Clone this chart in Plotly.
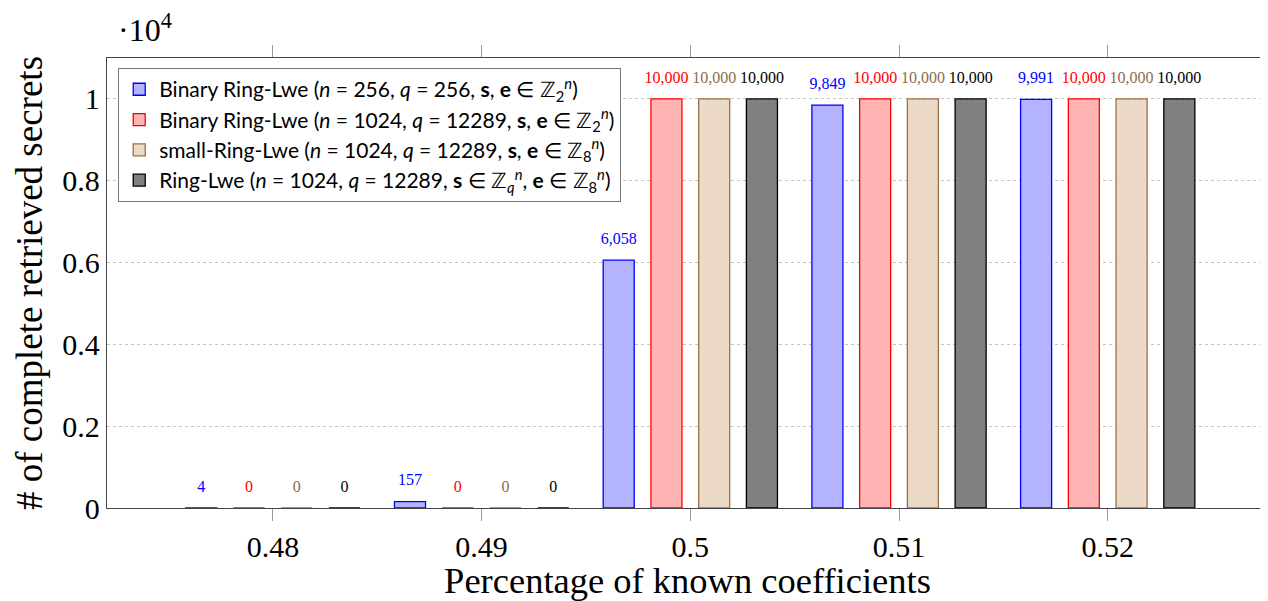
import plotly.graph_objects as go

# ---- data ----
known_coeffs = [0.48, 0.49, 0.50, 0.51, 0.52]
tick_labels = ["0.48", "0.49", "0.5", "0.51", "0.52"]
series_names = [
    "Binary Ring-Lwe (<i>n</i> = 256, <i>q</i> = 256, <b>s</b>, <b>e</b> ∈ ℤ<sub>2</sub><sup><i>n</i></sup>)",
    "Binary Ring-Lwe (<i>n</i> = 1024, <i>q</i> = 12289, <b>s</b>, <b>e</b> ∈ ℤ<sub>2</sub><sup><i>n</i></sup>)",
    "small-Ring-Lwe (<i>n</i> = 1024, <i>q</i> = 12289, <b>s</b>, <b>e</b> ∈ ℤ<sub>8</sub><sup><i>n</i></sup>)",
    "Ring-Lwe (<i>n</i> = 1024, <i>q</i> = 12289, <b>s</b> ∈ ℤ<sub><i>q</i></sub><sup><i>n</i></sup>, <b>e</b> ∈ ℤ<sub>8</sub><sup><i>n</i></sup>)",
]
binary_256 = [4, 157, 6058, 9849, 9991]
binary_1024 = [0, 0, 10000, 10000, 10000]
small_1024 = [0, 0, 10000, 10000, 10000]
ringlwe_1024 = [0, 0, 10000, 10000, 10000]
y_ticks = [0, 0.2, 0.4, 0.6, 0.8, 1.0]
y_tick_labels = ["0", "0.2", "0.4", "0.6", "0.8", "1"]
scale = 10000

fills = ["#b3b3ff", "#ffb3b3", "#ecd9c6", "#808080"]
edges = ["#0000ff", "#ff0000", "#99704a", "#000000"]
textcols = ["#0000ff", "#ff0000", "#8c6a48", "#000000"]

SERIF = "Liberation Serif"
GAP = 0.085

fig = go.Figure()
all_series = [binary_256, binary_1024, small_1024, ringlwe_1024]
for name, vals, fc, ec in zip(series_names, all_series, fills, edges):
    fig.add_trace(go.Bar(
        x=known_coeffs,
        y=[v / scale for v in vals],
        name=name,
        marker=dict(color=fc, line=dict(color=ec, width=1.3)),
        hoverinfo="skip",
    ))

# value labels, grouped the same way as the bars
for vals, tc in zip(all_series, textcols):
    fig.add_trace(go.Scatter(
        x=known_coeffs,
        y=[v / scale for v in vals],
        mode="markers+text",
        marker=dict(size=18, opacity=0),
        text=[f"{v:,}" for v in vals],
        textposition="top center",
        textfont=dict(family=SERIF, size=16, color=tc),
        showlegend=False,
        cliponaxis=False,
        hoverinfo="skip",
    ))

fig.update_layout(
    width=1260, height=593,
    margin=dict(l=99, r=0, t=50, b=93),
    plot_bgcolor="white", paper_bgcolor="white",
    barmode="group", bargap=GAP, bargroupgap=0.35,
    scattermode="group", scattergap=GAP,
    font=dict(family=SERIF, size=22, color="black"),
    showlegend=True,
    legend=dict(
        x=0.0095, y=0.978, xanchor="left", yanchor="top",
        bgcolor="white", bordercolor="#777777", borderwidth=1.2,
        font=dict(family="Lato", size=21, color="black"),
        tracegroupgap=0, itemwidth=30,
    ),
    xaxis=dict(
        range=[0.47205, 0.52768],
        tickvals=known_coeffs,
        ticktext=tick_labels,
        ticks="outside", ticklen=12, tickcolor="#999999", tickwidth=1,
        showline=True, linecolor="#444444", linewidth=1.3, mirror="ticks",
        showgrid=False, zeroline=False, automargin=False,
        tickfont=dict(family=SERIF, size=30),
        title=dict(text="Percentage of known coefficients",
                   font=dict(family=SERIF, size=36.5), standoff=2),
    ),
    yaxis=dict(
        range=[0, 1.1],
        tickvals=y_ticks,
        ticktext=y_tick_labels,
        ticks="",
        showline=True, linecolor="#444444", linewidth=1.3, mirror=True,
        showgrid=True, gridcolor="#c4c4c4", griddash="dot", gridwidth=1,
        zeroline=False, automargin=False,
        tickfont=dict(family=SERIF, size=30),
        title=dict(text="# of complete retrieved secrets",
                   font=dict(family=SERIF, size=37), standoff=8),
    ),
)

fig.add_annotation(
    xref="paper", yref="paper", x=0.008, y=1.0, xanchor="left", yanchor="bottom",
    yshift=8, text="·10<sup>4</sup>", showarrow=False,
    font=dict(family=SERIF, size=32, color="black"),
)

fig.write_html("out.html")
